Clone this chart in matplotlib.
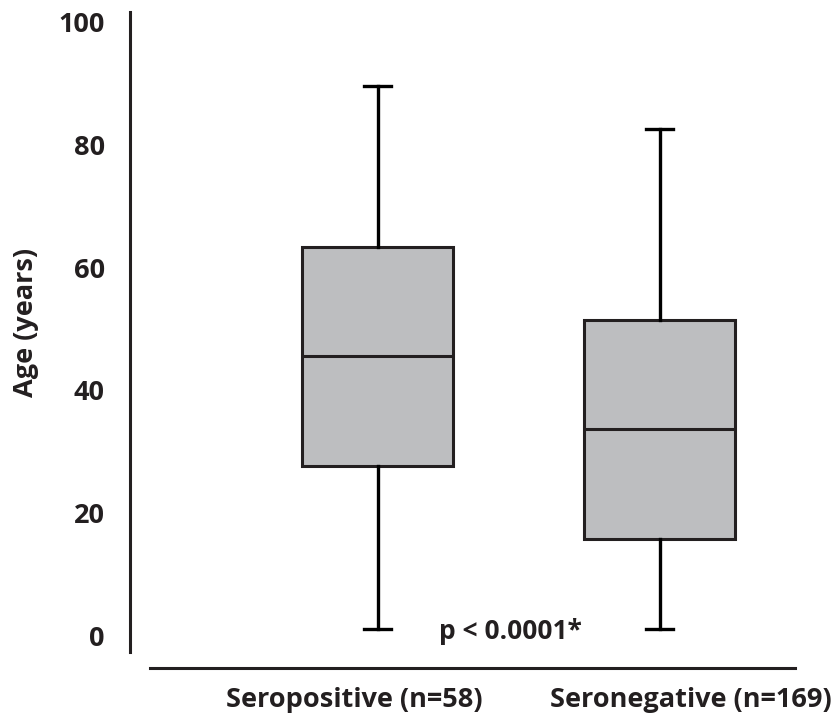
import matplotlib
matplotlib.use("Agg")
import matplotlib.pyplot as plt
from matplotlib.lines import Line2D
from matplotlib import transforms

categories = ["Seropositive (n=58)", "Seronegative (n=169)"]
whislo = [1.1, 1.1]
q1 = [27.7, 15.8]
med = [45.6, 33.7]
q3 = [63.4, 51.5]
whishi = [89.6, 82.6]
yticks = [0, 20, 40, 60, 80, 100]
ptext = "p < 0.0001*"

plt.rcParams['font.family'] = ['Open Sans', 'DejaVu Sans']
plt.rcParams['font.weight'] = 'bold'

fig = plt.figure(figsize=(8.37, 7.18), dpi=100)
ax = fig.add_axes([130/837, 1-652/718, 665/837, 640/718])

stats = []
for i, c in enumerate(categories):
    stats.append(dict(label=c, whislo=whislo[i], q1=q1[i], med=med[i],
                      q3=q3[i], whishi=whishi[i], fliers=[]))

edge = '#231f20'
ax.bxp(stats, positions=[1, 2], widths=0.532, capwidths=0.095,
       showfliers=False, patch_artist=True,
       boxprops=dict(facecolor='#bdbec0', edgecolor=edge, linewidth=2.2),
       medianprops=dict(color=edge, linewidth=2.2),
       whiskerprops=dict(color='black', linewidth=2.4),
       capprops=dict(color='black', linewidth=2.4))

ax.set_xlim(0.1223, 2.4805)
ax.set_ylim(-2.6, 101.6)
ax.set_yticks(yticks)
ax.set_yticklabels([str(t) for t in yticks], fontsize=19.5, fontweight='bold', color='#231f20')
ax.tick_params(axis='y', length=0, pad=18)
ax.set_xticks([])
for s in ['top', 'right', 'bottom']:
    ax.spines[s].set_visible(False)
ax.spines['left'].set_linewidth(2.2)
ax.spines['left'].set_color(edge)

fig.text(26/837, 1-322/718, "Age (years)", rotation=90, ha='center', va='center',
         fontsize=19.5, fontweight='bold', color='#231f20')

# separate baseline below plot
fig.add_artist(Line2D([150/837, 795/837], [1-668/718, 1-668/718],
                      transform=fig.transFigure, color=edge, linewidth=2.2))

# category labels
offsets = [-23, 31]
for i, c in enumerate(categories):
    tr = transforms.blended_transform_factory(ax.transData, fig.transFigure)
    tr = tr + transforms.ScaledTranslation(offsets[i]/100, 0, fig.dpi_scale_trans)
    ax.text(i + 1, 1-700/718, c, transform=tr, ha='center', va='center',
            fontsize=19.5, fontweight='bold', color='#231f20')

ax.text(1.47, 0.8, ptext, ha='center', va='center', fontsize=19,
        fontweight='bold', color='#231f20')

fig.savefig("out.png", dpi=100)
